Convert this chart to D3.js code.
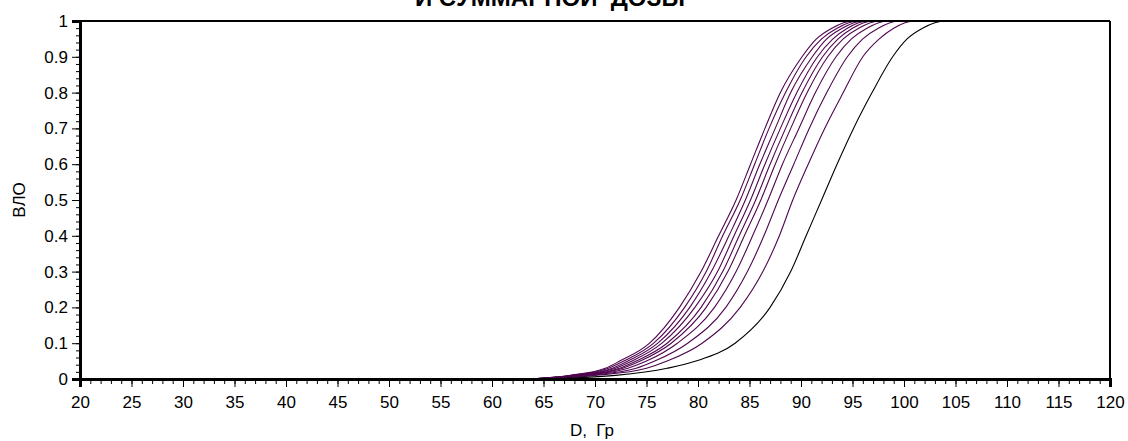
<!DOCTYPE html>
<html>
<head>
<meta charset="utf-8">
<script src="https://cdn.jsdelivr.net/npm/d3@7"></script>
<style>
  html, body { margin: 0; padding: 0; background: #fff; }
  svg { display: block; }
  text { font-family: Arial, "Liberation Sans", sans-serif; fill: #000; }
</style>
</head>
<body>
<svg id="chart" width="1128" height="441"></svg>
<script>
// ---- data ----
const titleText = "И СУММАРНОЙ  ДОЗЫ";
const xLabel = "D,  Гр";
const yLabel = "ВЛО";
const xTicks = [20, 25, 30, 35, 40, 45, 50, 55, 60, 65, 70, 75, 80, 85, 90, 95, 100, 105, 110, 115, 120];
const yTicks = [0, 0.1, 0.2, 0.3, 0.4, 0.5, 0.6, 0.7, 0.8, 0.9, 1];
// probability levels (ВЛО) at which the dose of each curve was read
const levels = [0, 0.01, 0.03, 0.05, 0.1, 0.2, 0.3, 0.4, 0.5, 0.6, 0.7, 0.8, 0.9, 0.95, 0.98, 1, 1];
// dose (Гр) of each curve at those levels, left to right
const curve1 = [63.5, 67.5, 71.0, 72.4, 75.3, 78.2, 80.3, 82.0, 83.7, 85.1, 86.5, 88.0, 90.1, 91.5, 93.0, 95.0, 101.5];
const curve2 = [63.6, 67.7, 71.3, 72.8, 75.7, 78.7, 80.8, 82.4, 84.1, 85.5, 86.9, 88.5, 90.5, 92.0, 93.5, 95.5, 101.5];
const curve3 = [63.7, 67.9, 71.7, 73.2, 76.1, 79.2, 81.3, 83.0, 84.6, 86.0, 87.5, 89.0, 91.1, 92.5, 94.0, 96.0, 101.5];
const curve4 = [63.8, 68.1, 72.0, 73.6, 76.5, 79.7, 81.9, 83.5, 85.1, 86.5, 88.0, 89.6, 91.6, 93.1, 94.5, 96.5, 101.5];
const curve5 = [63.8, 68.4, 72.4, 74.0, 77.0, 80.3, 82.4, 84.0, 85.6, 87.0, 88.5, 90.1, 92.1, 93.6, 95.0, 97.0, 101.5];
const curve6 = [63.9, 68.6, 72.7, 74.4, 77.4, 80.8, 82.9, 84.5, 86.1, 87.5, 89.0, 90.6, 92.6, 94.1, 95.6, 97.6, 101.5];
const curve7 = [64.1, 68.9, 73.2, 75.0, 78.0, 81.6, 83.7, 85.3, 86.8, 88.2, 89.8, 91.4, 93.4, 94.9, 96.4, 98.4, 101.5];
const curve8 = [64.2, 69.4, 74.0, 75.8, 79.0, 82.7, 84.8, 86.4, 87.8, 89.3, 90.8, 92.5, 94.5, 96.0, 97.5, 99.5, 101.5];
const curve9 = [64.5, 70.0, 75.0, 77.0, 80.4, 84.1, 86.3, 87.9, 89.2, 90.7, 92.3, 94.1, 96.0, 97.6, 99.0, 101.0, 101.5];
const curveTotal = [65.0, 72.0, 77.0, 79.8, 83.6, 87.0, 89.0, 90.5, 92.0, 93.5, 95.1, 96.9, 98.9, 100.3, 101.8, 104.0, 104.5];
const purpleCurves = [curve1, curve2, curve3, curve4, curve5, curve6, curve7, curve8, curve9];

// ---- layout ----
const svg = d3.select("#chart");
const x = d3.scaleLinear().domain([20, 120]).range([80, 1110]);
const y = d3.scaleLinear().domain([0, 1]).range([379, 21]);

// title (first line cut off at the top of the picture, as in the reference)
svg.append("text")
  .attr("x", 550).attr("y", 6)
  .attr("text-anchor", "middle")
  .style("font-weight", "bold").style("font-size", "24px")
  .attr("xml:space", "preserve")
  .text(titleText);

// curves
const line = d3.line()
  .x(d => x(d[0])).y(d => y(d[1]))
  .curve(d3.curveMonotoneX);
const g = svg.append("g");
purpleCurves.forEach(c => {
  g.append("path")
    .datum(c.map((v, i) => [v, levels[i]]))
    .attr("d", line)
    .attr("fill", "none")
    .attr("stroke", "#4f074f")
    .attr("stroke-width", 1.1);
});
g.append("path")
  .datum(curveTotal.map((v, i) => [v, levels[i]]))
  .attr("d", line)
  .attr("fill", "none")
  .attr("stroke", "#000")
  .attr("stroke-width", 1.1);

// frame top & right
svg.append("line").attr("x1", x(20)).attr("x2", x(120)).attr("y1", y(1)).attr("y2", y(1))
  .attr("stroke", "#000").attr("stroke-width", 2);
svg.append("line").attr("x1", x(120)).attr("x2", x(120)).attr("y1", y(1)).attr("y2", y(0))
  .attr("stroke", "#000").attr("stroke-width", 2);

// minor ticks
svg.append("g").attr("transform", `translate(0,${y(0)})`)
  .call(d3.axisBottom(x).tickValues(d3.range(20, 121, 1)).tickSize(5).tickFormat(""))
  .call(a => a.select(".domain").remove());
svg.append("g").attr("transform", `translate(${x(20)},0)`)
  .call(d3.axisLeft(y).tickValues(d3.range(0, 51, 1).map(v => v / 50)).tickSize(4).tickFormat(""))
  .call(a => a.select(".domain").remove());

// major axes
const xAxis = svg.append("g").attr("transform", `translate(0,${y(0)})`)
  .call(d3.axisBottom(x).tickValues(xTicks).tickSize(8).tickPadding(9).tickFormat(d3.format("d")));
xAxis.select(".domain").attr("stroke-width", 3);
xAxis.selectAll("text").style("font-size", "17px").style("font-family", "Arial, 'Liberation Sans', sans-serif");

const yAxis = svg.append("g").attr("transform", `translate(${x(20)},0)`)
  .call(d3.axisLeft(y).tickValues(yTicks).tickSize(8).tickPadding(4).tickFormat(d => d === 0 || d === 1 ? d3.format("d")(d) : d3.format(".1f")(d)));
yAxis.select(".domain").attr("stroke-width", 3);
yAxis.selectAll("text").style("font-size", "17px").style("font-family", "Arial, 'Liberation Sans', sans-serif");

// axis titles
svg.append("text")
  .attr("x", 592).attr("y", 436)
  .attr("text-anchor", "middle")
  .style("font-size", "17px")
  .attr("xml:space", "preserve")
  .text(xLabel);
svg.append("text")
  .attr("transform", "translate(25,200) rotate(-90)")
  .attr("text-anchor", "middle")
  .style("font-size", "17px")
  .text(yLabel);
</script>
</body>
</html>
